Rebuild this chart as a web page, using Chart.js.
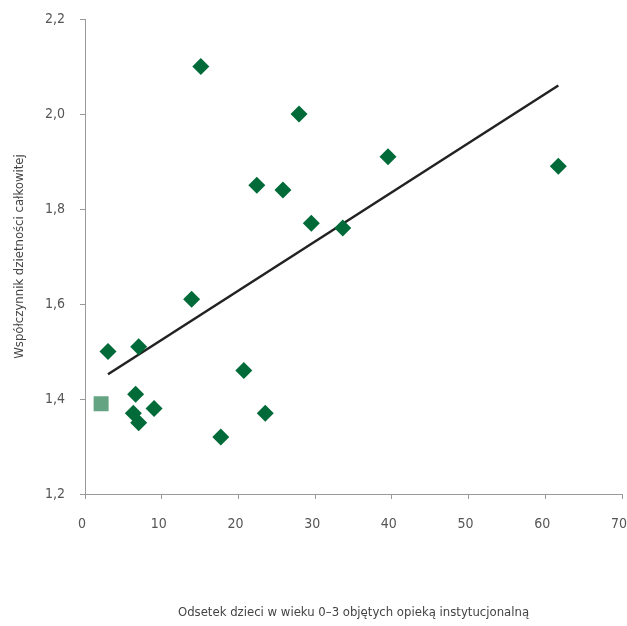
<!DOCTYPE html>
<html>
<head>
<meta charset="utf-8">
<script src="https://cdn.jsdelivr.net/npm/chart.js@4"></script>
<style>
  html, body { margin: 0; padding: 0; background: #fff; }
  #wrap { width: 627px; height: 626px; }
</style>
</head>
<body>
<div id="wrap"><canvas id="myChart" width="627" height="626"></canvas></div>
<script>
// Dane: odsetek dzieci 0-3 w opiece instytucjonalnej vs współczynnik dzietności
var xValues = [3.0, 7.0, 6.6, 6.3, 7.0, 9.0, 13.9, 15.1, 17.7, 20.7, 22.4, 23.5, 25.8, 27.9, 29.5, 33.6, 39.5, 61.7];
var yValues = [1.50, 1.51, 1.41, 1.37, 1.35, 1.38, 1.61, 2.10, 1.32, 1.46, 1.85, 1.37, 1.84, 2.00, 1.77, 1.76, 1.91, 1.89];

// wyróżniony punkt (kwadrat)
var highlightX = [2.1];
var highlightY = [1.39];

// linia trendu (końce)
var trendX = [3.0, 61.7];
var trendY = [1.452, 2.060];

var xTicks = [0, 10, 20, 30, 40, 50, 60, 70];
var yTicks = [1.2, 1.4, 1.6, 1.8, 2.0, 2.2];

var FONT = "'Liberation Sans Narrow', 'DejaVu Sans Condensed', 'Arial Narrow', sans-serif";

function toPoints(xs, ys) {
    return xs.map(function (x, i) { return { x: x, y: ys[i] }; });
}

var config = {
    type: 'scatter',
    data: {
        datasets: [{
            type: 'line',
            label: 'Trend',
            data: toPoints(trendX, trendY),
            borderColor: '#222222',
            borderWidth: 2.5,
            pointRadius: 0,
            fill: false,
            order: 3
        }, {
            label: 'Kraje',
            data: toPoints(xValues, yValues),
            pointStyle: 'rectRot',
            pointRadius: 8.5,
            pointHoverRadius: 8.5,
            backgroundColor: '#006b38',
            borderWidth: 0,
            order: 1
        }, {
            label: 'Polska',
            data: toPoints(highlightX, highlightY),
            pointStyle: 'rect',
            pointRadius: 10.6,
            pointHoverRadius: 10.6,
            backgroundColor: '#64a482',
            borderWidth: 0,
            order: 2
        }]
    },
    options: {
        responsive: false,
        animation: false,
        layout: { autoPadding: false, padding: { left: 0, right: 5, top: 19, bottom: 0 } },
        plugins: {
            legend: { display: false },
            tooltip: { enabled: false }
        },
        scales: {
            x: {
                type: 'linear',
                min: 0,
                max: 70,
                afterBuildTicks: function (axis) {
                    axis.ticks = xTicks.map(function (v) { return { value: v }; });
                },
                afterFit: function (axis) {
                    axis.height = 132;
                    axis.paddingLeft = 0;
                    axis.paddingRight = 0;
                },
                grid: { drawOnChartArea: false, drawTicks: true, tickLength: 5, color: '#9a9a9a' },
                border: { color: '#9a9a9a', width: 1 },
                ticks: {
                    padding: 17,
                    labelOffset: -3,
                    color: '#555555',
                    font: { family: FONT, size: 14 }
                },
                title: {
                    display: true,
                    text: 'Odsetek dzieci w wieku 0–3 objętych opieką instytucjonalną',
                    color: '#444444',
                    font: { family: FONT, size: 13 },
                    padding: { top: 0, bottom: 6 }
                }
            },
            y: {
                type: 'linear',
                min: 1.2,
                max: 2.2,
                afterBuildTicks: function (axis) {
                    axis.ticks = yTicks.map(function (v) { return { value: v }; });
                },
                afterFit: function (axis) {
                    axis.width = 85;
                    axis.paddingTop = 0;
                    axis.paddingBottom = 0;
                },
                grid: { drawOnChartArea: false, drawTicks: true, tickLength: 5, color: '#9a9a9a' },
                border: { color: '#9a9a9a', width: 1 },
                ticks: {
                    padding: 15,
                    color: '#555555',
                    font: { family: FONT, size: 14 },
                    callback: function (value) { return value.toFixed(1).replace('.', ','); }
                },
                title: {
                    display: true,
                    text: 'Współczynnik dzietności całkowitej',
                    color: '#444444',
                    font: { family: FONT, size: 13 },
                    padding: { top: 12, bottom: 0 }
                }
            }
        }
    }
};

var ctx = document.getElementById('myChart').getContext('2d');
new Chart(ctx, config);
</script>
</body>
</html>
